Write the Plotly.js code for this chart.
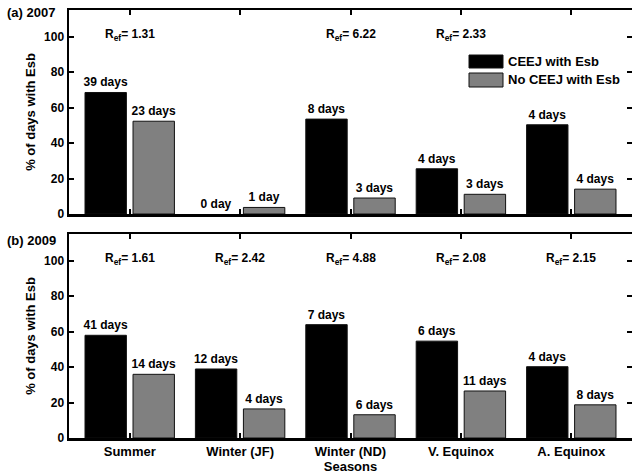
<!DOCTYPE html>
<html>
<head>
<meta charset="utf-8">
<script src="https://cdn.plot.ly/plotly-3.0.1.min.js"></script>
<style>html,body{margin:0;padding:0;background:#fff;}#chart{width:632px;height:474px;}</style>
</head>
<body>
<div id="chart"></div>
<script>
// ---- data ----
const seasons = ['Summer', 'Winter (JF)', 'Winter (ND)', 'V. Equinox', 'A. Equinox'];
const seasonPos = [1, 2, 3, 4, 5];

const ceej2007 = [68.5, 0, 53.5, 25.5, 50.3];
const noCeej2007 = [52.3, 3.7, 9.0, 11.1, 14.0];
const ceej2007Days = ['39 days', '0 day', '8 days', '4 days', '4 days'];
const noCeej2007Days = ['23 days', '1 day', '3 days', '3 days', '4 days'];
const ref2007 = ['1.31', null, '6.22', '2.33', null];

const ceej2009 = [57.9, 38.9, 63.9, 54.6, 40.2];
const noCeej2009 = [35.9, 16.4, 13.1, 26.5, 18.7];
const ceej2009Days = ['41 days', '12 days', '7 days', '6 days', '4 days'];
const noCeej2009Days = ['14 days', '4 days', '6 days', '11 days', '8 days'];
const ref2009 = ['1.61', '2.42', '4.88', '2.08', '2.15'];

const yTicks = [0, 20, 40, 60, 80, 100];

// ---- style ----
const FONT = 'Liberation Sans, Arial, Helvetica, sans-serif';
const BLACK = '#000000';
const GRAY = '#808080';
const L = 69, R = 0, T = 10, B = 36, W = 632, H = 474;
const PW = W - L - R, PH = H - T - B;
const xp = px => (px - L) / PW;
const yp = py => (H - B - py) / PH;

function barTrace(vals, labels, color, offset, xa, ya, name) {
  return {
    type: 'bar', x: seasonPos, y: vals, name: name,
    xaxis: xa, yaxis: ya,
    width: 0.375, offset: offset,
    marker: {color: color, line: {color: '#111', width: vals.map(v => v > 0 ? 1 : 0)}},
    text: labels, textposition: 'outside', cliponaxis: false, constraintext: 'none',
    textfont: {family: FONT, size: 12, color: '#000', weight: 'bold'},
    showlegend: false, hoverinfo: 'skip'
  };
}

const data = [
  barTrace(ceej2007, ceej2007Days, BLACK, -0.405, 'x', 'y', 'CEEJ with Esb'),
  barTrace(noCeej2007, noCeej2007Days, GRAY, 0.03, 'x', 'y', 'No CEEJ with Esb'),
  barTrace(ceej2009, ceej2009Days, BLACK, -0.405, 'x2', 'y2', 'CEEJ with Esb'),
  barTrace(noCeej2009, noCeej2009Days, GRAY, 0.03, 'x2', 'y2', 'No CEEJ with Esb')
];

const tickFont = {family: FONT, size: 12, color: '#000', weight: 'bold'};
const axisCommon = {
  showline: true, linecolor: '#000', linewidth: 2.5,
  ticks: 'inside', ticklen: 5, tickwidth: 2, tickcolor: '#000',
  mirror: 'ticks', showgrid: false, zeroline: false, fixedrange: true
};

const annotations = [];
function addRef(vals, xa, ya) {
  vals.forEach((v, i) => {
    if (v === null) return;
    annotations.push({
      xref: xa, yref: ya, x: seasonPos[i], y: 101,
      text: 'R<sub>ef</sub>= ' + v, showarrow: false,
      xanchor: 'center', yanchor: 'middle',
      font: {family: FONT, size: 12, color: '#000', weight: 'bold'}
    });
  });
}
addRef(ref2007, 'x', 'y');
addRef(ref2009, 'x2', 'y2');

annotations.push({xref: 'paper', yref: 'paper', x: xp(5), y: yp(13), text: '(a) 2007',
  showarrow: false, xanchor: 'left', yanchor: 'middle',
  font: {family: FONT, size: 13, color: '#000', weight: 'bold'}});
annotations.push({xref: 'paper', yref: 'paper', x: xp(5), y: yp(240), text: '(b) 2009',
  showarrow: false, xanchor: 'left', yanchor: 'middle',
  font: {family: FONT, size: 13, color: '#000', weight: 'bold'}});

// legend (manual, matching reference swatches)
const legendItems = [
  {name: 'CEEJ with Esb', color: BLACK, y0: 55, y1: 68},
  {name: 'No CEEJ with Esb', color: GRAY, y0: 73, y1: 87}
];
const shapes = [];
legendItems.forEach(it => {
  shapes.push({type: 'rect', xref: 'paper', yref: 'paper',
    x0: xp(469), x1: xp(503), y0: yp(it.y1), y1: yp(it.y0),
    fillcolor: it.color, line: {color: '#111', width: 1}});
  annotations.push({xref: 'paper', yref: 'paper', x: xp(506), y: yp((it.y0 + it.y1) / 2),
    text: it.name, showarrow: false, xanchor: 'left', yanchor: 'middle',
    font: {family: FONT, size: 13, color: '#000', weight: 'bold'}});
});

const layout = {
  width: W, height: H,
  margin: {l: L, r: R, t: T, b: B},
  paper_bgcolor: '#fff', plot_bgcolor: '#fff',
  font: {family: FONT, size: 12, color: '#000', weight: 'bold'},
  barmode: 'overlay',
  xaxis: Object.assign({}, axisCommon, {
    anchor: 'y', domain: [0, 1], range: [0.45, 5.55],
    tickvals: seasonPos, showticklabels: false
  }),
  yaxis: Object.assign({}, axisCommon, {
    anchor: 'x', domain: [yp(214), 1], range: [0, 115],
    tickvals: yTicks, tickfont: tickFont,
    title: {text: '% of days with Esb', font: {family: FONT, size: 13, color: '#000', weight: 'bold'}, standoff: 6}
  }),
  xaxis2: Object.assign({}, axisCommon, {
    anchor: 'y2', domain: [0, 1], range: [0.45, 5.55],
    tickvals: seasonPos, ticktext: seasons, tickfont: {family: FONT, size: 13, color: '#000', weight: 'bold'},
    title: {text: 'Seasons', font: {family: FONT, size: 13, color: '#000', weight: 'bold'}, standoff: 0}
  }),
  yaxis2: Object.assign({}, axisCommon, {
    anchor: 'x2', domain: [0, yp(234)], range: [0, 115],
    tickvals: yTicks, tickfont: tickFont,
    title: {text: '% of days with Esb', font: {family: FONT, size: 13, color: '#000', weight: 'bold'}, standoff: 6}
  }),
  annotations: annotations,
  shapes: shapes
};

Plotly.newPlot('chart', data, layout, {displayModeBar: false, staticPlot: true});
</script>
</body>
</html>
